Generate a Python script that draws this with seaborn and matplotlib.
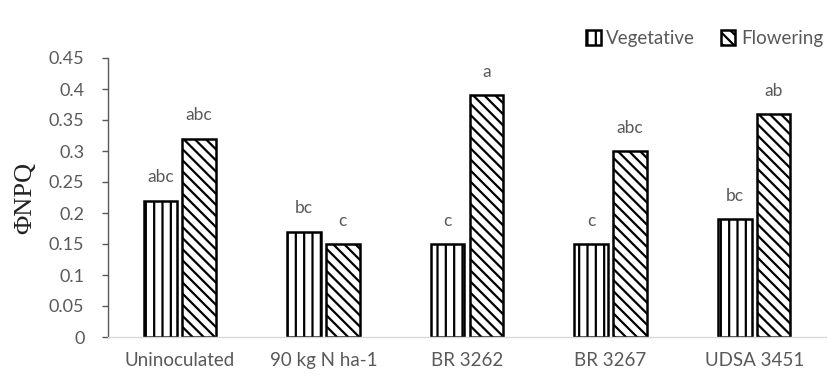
import matplotlib
matplotlib.use("Agg")
import matplotlib.pyplot as plt
import seaborn as sns
import pandas as pd

treatments = ["Uninoculated", "90 kg N ha-1", "BR 3262", "BR 3267", "UDSA 3451"]
stages = ["Vegetative", "Flowering"]
vegetative = [0.22, 0.17, 0.15, 0.15, 0.19]
flowering = [0.32, 0.15, 0.39, 0.30, 0.36]
letters_veg = ["abc", "bc", "c", "c", "bc"]
letters_flo = ["abc", "c", "a", "abc", "ab"]
yticks = [0, 0.05, 0.1, 0.15, 0.2, 0.25, 0.3, 0.35, 0.4, 0.45]
ytick_labels = ["0", "0.05", "0.1", "0.15", "0.2", "0.25", "0.3", "0.35", "0.4", "0.45"]

df = pd.DataFrame({
    "Treatment": treatments * 2,
    "Stage": [stages[0]] * len(treatments) + [stages[1]] * len(treatments),
    "Value": vegetative + flowering,
    "Letter": letters_veg + letters_flo,
})

sns.set_theme(style="white")
plt.rcParams["font.family"] = ["Lato", "DejaVu Sans"]
plt.rcParams["hatch.linewidth"] = 1.6
plt.rcParams["hatch.color"] = "black"

text_gray = "#595959"
fs = 12.5

fig = plt.figure(figsize=(8.3, 3.83), dpi=100)
ax = fig.add_axes([108 / 830, 1 - 337 / 383, 718 / 830, 279 / 383])

sns.barplot(data=df, x="Treatment", y="Value", hue="Stage", order=treatments,
            hue_order=stages, palette=["white", "white"], width=0.54, gap=0.13,
            edgecolor="black", linewidth=1.8, legend=True, ax=ax)

hatches = {"Vegetative": "||", "Flowering": "\\\\\\"}
for container, stage in zip(ax.containers, stages):
    for bar in container:
        bar.set_hatch(hatches[stage])
    labels = df[df["Stage"] == stage]["Letter"].tolist()
    ax.bar_label(container, labels=labels, padding=11, fontsize=fs, color=text_gray)

ax.set_ylim(0, 0.45)
ax.set_yticks(yticks)
ax.set_yticklabels(ytick_labels)
ax.set_xlabel("")
ax.set_ylabel("ΦNPQ", family=["Liberation Serif"], fontsize=19, color="#222222", labelpad=9)

for side in ["top", "right"]:
    ax.spines[side].set_visible(False)
ax.spines["left"].set_color("#595959")
ax.spines["left"].set_linewidth(1.0)
ax.spines["bottom"].set_color("#d9d9d9")
ax.spines["bottom"].set_linewidth(1.0)

ax.tick_params(axis="y", which="both", left=True, length=4, width=1.0, color="#595959",
               labelsize=fs + 0.5, labelcolor=text_gray, pad=13)
ax.tick_params(axis="x", bottom=False, labelsize=fs + 1, labelcolor=text_gray, pad=5)

handles = ax.get_legend().legend_handles
for hdl, stage in zip(handles, stages):
    hdl.set_hatch(hatches[stage])
ax.get_legend().remove()
leg = fig.legend(handles=handles, labels=stages, loc="upper right",
                 bbox_to_anchor=(1.012, 0.965), ncol=2, frameon=False, fontsize=fs + 1,
                 handlelength=0.75, handleheight=0.85, handletextpad=0.3, columnspacing=1.4)
for t in leg.get_texts():
    t.set_color(text_gray)

fig.savefig("out.png", dpi=100)
